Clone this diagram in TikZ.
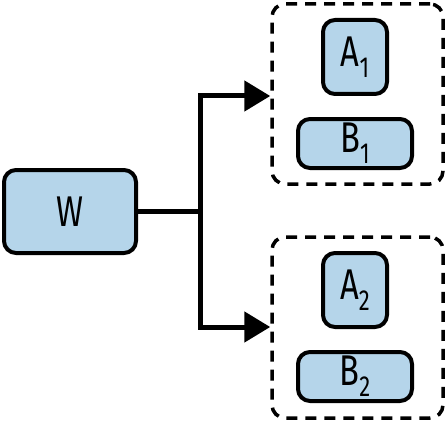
\documentclass[tikz,border=0pt]{standalone}
\usepackage{fontspec}
\setmainfont{Fira Sans}[FakeStretch=0.76]
\usetikzlibrary{arrows.meta}
\definecolor{boxblue}{RGB}{181,213,234}
\tikzset{
  box/.style={draw=black, fill=boxblue, line width=4pt, rounded corners=12pt, inner sep=0pt, font=\fontsize{43}{43}\selectfont},
  group/.style={draw=black, line width=3.5pt, dash pattern=on 11pt off 8pt, rounded corners=13pt, inner sep=0pt},
  conn/.style={line width=5pt, -{Triangle[length=26pt,width=30pt]}},
  plain/.style={line width=5pt}
}
\newcommand{\subnum}[1]{\raisebox{-11pt}{\fontsize{29}{29}\selectfont #1}}
\begin{document}
\begin{tikzpicture}[x=1pt,y=1pt]
\useasboundingbox (0,0) rectangle (447,424);
\node[box, minimum width=132pt, minimum height=83pt] (W) at (70,212.5) {W};
\node[group, minimum width=171pt, minimum height=180pt] (g1) at (357.5,330) {};
\node[group, minimum width=171pt, minimum height=181pt] (g2) at (357.5,96.5) {};
\node[box, minimum width=64pt, minimum height=74pt] (A1) at (355,367) {A\subnum{1}};
\node[box, minimum width=114pt, minimum height=49pt] (B1) at (355,280.5) {B\subnum{1}};
\node[box, minimum width=64pt, minimum height=74pt] (A2) at (355,134) {A\subnum{2}};
\node[box, minimum width=114pt, minimum height=49pt] (B2) at (355,47.5) {B\subnum{2}};
\coordinate (j) at (200,212.5);
\draw[plain] (W.east) -- (j);
\draw[conn] ([yshift=-2.5pt]j) |- ([yshift=-2pt]g1.west);
\draw[conn] ([yshift=2.5pt]j) |- ([yshift=0.5pt]g2.west);
\end{tikzpicture}
\end{document}
